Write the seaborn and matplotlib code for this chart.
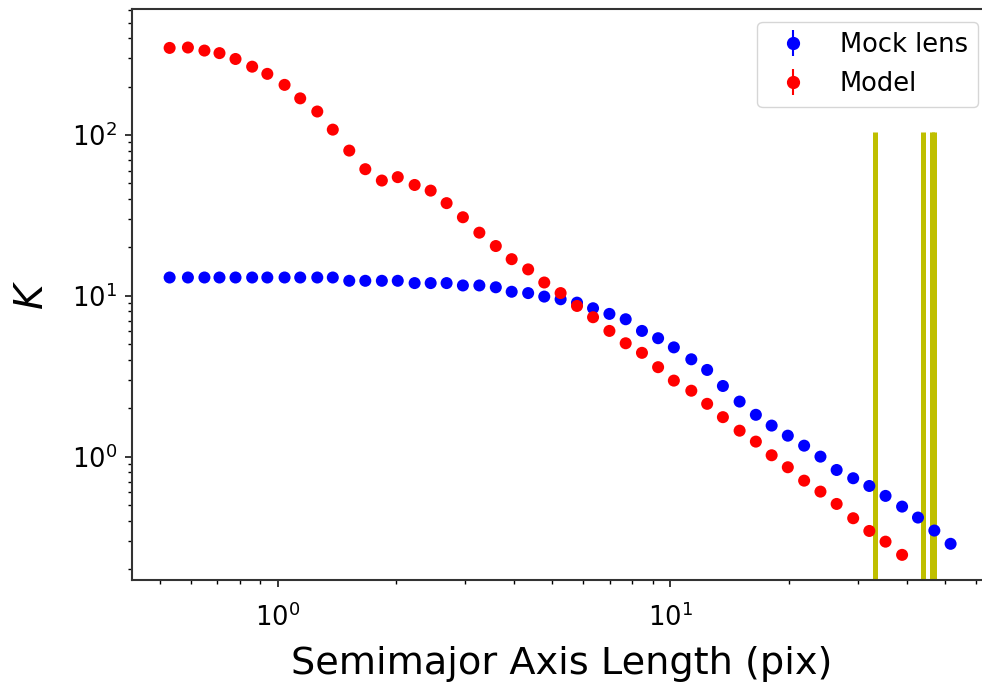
import pandas as pd
import matplotlib
matplotlib.use('Agg')
import matplotlib.pyplot as plt
import seaborn as sns

# semimajor axis of each isophote (pix)
sma = [0.53, 0.59, 0.65, 0.71, 0.78, 0.86, 0.94, 1.04, 1.14, 1.26,
       1.38, 1.52, 1.67, 1.84, 2.02, 2.23, 2.45, 2.69, 2.96, 3.26,
       3.59, 3.94, 4.34, 4.77, 5.25, 5.78, 6.35, 6.99, 7.69, 8.46,
       9.30, 10.2, 11.3, 12.4, 13.6, 15.0, 16.5, 18.1, 19.9, 21.9,
       24.1, 26.5, 29.2, 32.1, 35.3, 38.9, 42.7, 47.0, 51.7]

mock_kappa = [13.0, 13.0, 13.0, 13.0, 13.0, 13.0, 13.0, 13.0, 13.0, 13.0,
              13.0, 12.4, 12.4, 12.4, 12.4, 12.0, 12.0, 12.0, 11.6, 11.6,
              11.3, 10.6, 10.4, 9.89, 9.52, 9.07, 8.37, 7.72, 7.15, 6.05,
              5.45, 4.78, 4.03, 3.46, 2.75, 2.20, 1.82, 1.56, 1.35, 1.17,
              1.00, 0.826, 0.734, 0.657, 0.570, 0.489, 0.418, 0.347, 0.287]

model_kappa = [348, 350, 335, 323, 297, 266, 240, 205, 169, 140,
               108, 80.0, 61.3, 52.1, 54.7, 48.9, 45.1, 37.7, 30.8, 24.7,
               20.4, 16.9, 14.6, 12.1, 10.4, 8.65, 7.36, 6.05, 5.07, 4.42,
               3.60, 2.97, 2.57, 2.13, 1.76, 1.45, 1.24, 1.02, 0.859, 0.709,
               0.606, 0.508, 0.414, 0.345, 0.296, 0.245]

# vertical markers (pix)
cut_radii = [33.1, 44.1, 46.3, 46.9]
cut_top = 105

mock = pd.DataFrame({'sma': sma, 'kappa': mock_kappa, 'series': 'Mock lens'})
model = pd.DataFrame({'sma': sma[:len(model_kappa)], 'kappa': model_kappa, 'series': 'Model'})
df = pd.concat([mock, model], ignore_index=True)

fig = plt.figure(figsize=(9.82, 6.88), dpi=100)
ax = fig.add_axes([0.1344, 0.157, 0.8747, 0.830])

sns.scatterplot(data=df, x='sma', y='kappa', hue='series',
                palette={'Mock lens': 'blue', 'Model': 'red'},
                s=75, linewidth=0, legend=False, ax=ax, zorder=3)

ax.vlines(cut_radii, 0.01, cut_top, colors='y', linewidth=3.6, zorder=2)

ax.set_xscale('log')
ax.set_yscale('log')
ax.set_xlim(0.425, 65.5)
ax.set_ylim(0.171, 608)

# errorbar-style legend handles
ax.errorbar([], [], yerr=[], fmt='o', color='blue', ms=8.5, label='Mock lens')
ax.errorbar([], [], yerr=[], fmt='o', color='red', ms=8.5, label='Model')
ax.legend(loc='upper right', fontsize=18.5)

ax.set_xlabel('Semimajor Axis Length (pix)', fontsize=27.5, labelpad=10)
ax.set_ylabel('$K$', fontsize=28, labelpad=15)
ax.tick_params(which='major', labelsize=18.5, length=5, width=1.1)
ax.tick_params(axis='x', which='major', pad=12)
ax.tick_params(axis='y', which='major', pad=6)
ax.tick_params(which='minor', length=2.9, width=1.0)
for sp in ax.spines.values():
    sp.set_linewidth(1.5)
    sp.set_color('#333333')

fig.savefig('out.png', dpi=100)
